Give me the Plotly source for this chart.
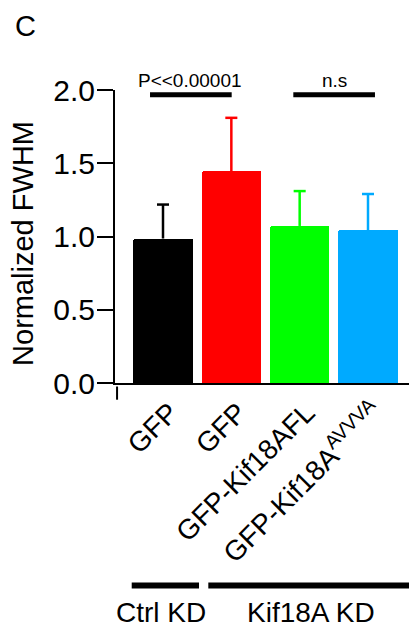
import plotly.graph_objects as go

# ---- data ----
categories = ["GFP", "GFP", "GFP-Kif18AFL", "GFP-Kif18A<sup>AVVVA</sup>"]
means = [0.986, 1.446, 1.072, 1.043]
sems = [0.232, 0.364, 0.238, 0.247]
colors = ["#000000", "#FF0000", "#00FF00", "#00AAFF"]
positions = [0, 1, 2, 3]

y_ticks = [0.0, 0.5, 1.0, 1.5, 2.0]

# significance annotations (x extent in category units, y level in data units)
sig_labels = ["P<<0.00001", "n.s"]
sig_x0 = [-0.19, 1.907]
sig_x1 = [1.005, 3.102]
sig_y = [1.967, 1.967]
sig_label_x = [0.388, 2.503]

# group labels below the axis
group_labels = ["Ctrl KD", "Kif18A KD"]
group_x0 = [-0.458, 0.663]
group_x1 = [0.527, 3.7]
group_label_x = [-0.03, 2.166]

FONT = "Liberation Sans, Arial, sans-serif"
CAP = 0.088  # half-width of error-bar caps, in category units

fig = go.Figure()

for x, m, c in zip(positions, means, colors):
    fig.add_trace(go.Bar(
        x=[x], y=[m], width=0.864,
        marker=dict(color=c, line=dict(width=0), cornerradius=2),
        showlegend=False,
    ))

# one-sided (upper) error bars
for x, m, s, c in zip(positions, means, sems, colors):
    fig.add_trace(go.Scatter(
        x=[x, x, None, x - CAP, x + CAP],
        y=[m, m + s, None, m + s, m + s],
        mode="lines", line=dict(color=c, width=2.5),
        showlegend=False, hoverinfo="skip",
    ))

for x0, x1, yv in zip(sig_x0, sig_x1, sig_y):
    fig.add_trace(go.Scatter(
        x=[x0, x1], y=[yv, yv], mode="lines",
        line=dict(color="black", width=5), showlegend=False, cliponaxis=False,
    ))

annotations = []
for lab, lx in zip(sig_labels, sig_label_x):
    annotations.append(dict(x=lx, y=1.034, xref="x", yref="paper", text=lab,
                            showarrow=False, xanchor="center", yanchor="middle",
                            font=dict(size=19, color="black", family=FONT)))

shapes = []
for gx0, gx1 in zip(group_x0, group_x1):
    shapes.append(dict(type="line", xref="x", yref="paper", x0=gx0, x1=gx1,
                       y0=-0.691, y1=-0.691, line=dict(color="black", width=6)))
for lab, gx in zip(group_labels, group_label_x):
    annotations.append(dict(x=gx, y=-0.783, xref="x", yref="paper", text=lab,
                            showarrow=False, xanchor="center", yanchor="middle",
                            font=dict(size=28, color="black", family=FONT)))

# small end tick on the x axis
shapes.append(dict(type="line", xref="x domain", yref="paper", x0=0.007, x1=0.007,
                   y0=-0.012, y1=-0.057, line=dict(color="black", width=2)))

# y-axis title and panel letter
annotations.append(dict(x=-0.313, y=0.478, xref="paper", yref="paper",
                        text="Normalized FWHM", textangle=-90, showarrow=False,
                        xanchor="center", yanchor="middle",
                        font=dict(size=29, color="black", family=FONT)))
annotations.append(dict(x=-0.306, y=1.218, xref="paper", yref="paper",
                        text="C", showarrow=False, xanchor="center", yanchor="middle",
                        font=dict(size=29, color="black", family=FONT)))

fig.update_layout(
    width=409, height=632,
    margin=dict(l=115, r=0, t=90, b=249, pad=0),
    paper_bgcolor="white", plot_bgcolor="white",
    font=dict(family=FONT, color="black"),
    annotations=annotations, shapes=shapes,
    bargap=0,
)
fig.update_xaxes(
    range=[-0.7025, 3.6], tickmode="array", tickvals=positions, ticktext=categories,
    tickangle=-45, ticks="", showline=True, linecolor="black", linewidth=2,
    showgrid=False, zeroline=False, ticklabelshift=7,
    tickfont=dict(size=28, color="black", family=FONT),
)
fig.update_yaxes(
    range=[0, 2.0], tickmode="array", tickvals=y_ticks, tickformat=".1f",
    ticks="outside", ticklen=16, tickwidth=2, tickcolor="black",
    showline=True, linecolor="black", linewidth=2, showgrid=False, zeroline=False,
    ticklabelstandoff=-4,
    tickfont=dict(size=30, color="black", family=FONT),
)

fig.write_html("out.html")
